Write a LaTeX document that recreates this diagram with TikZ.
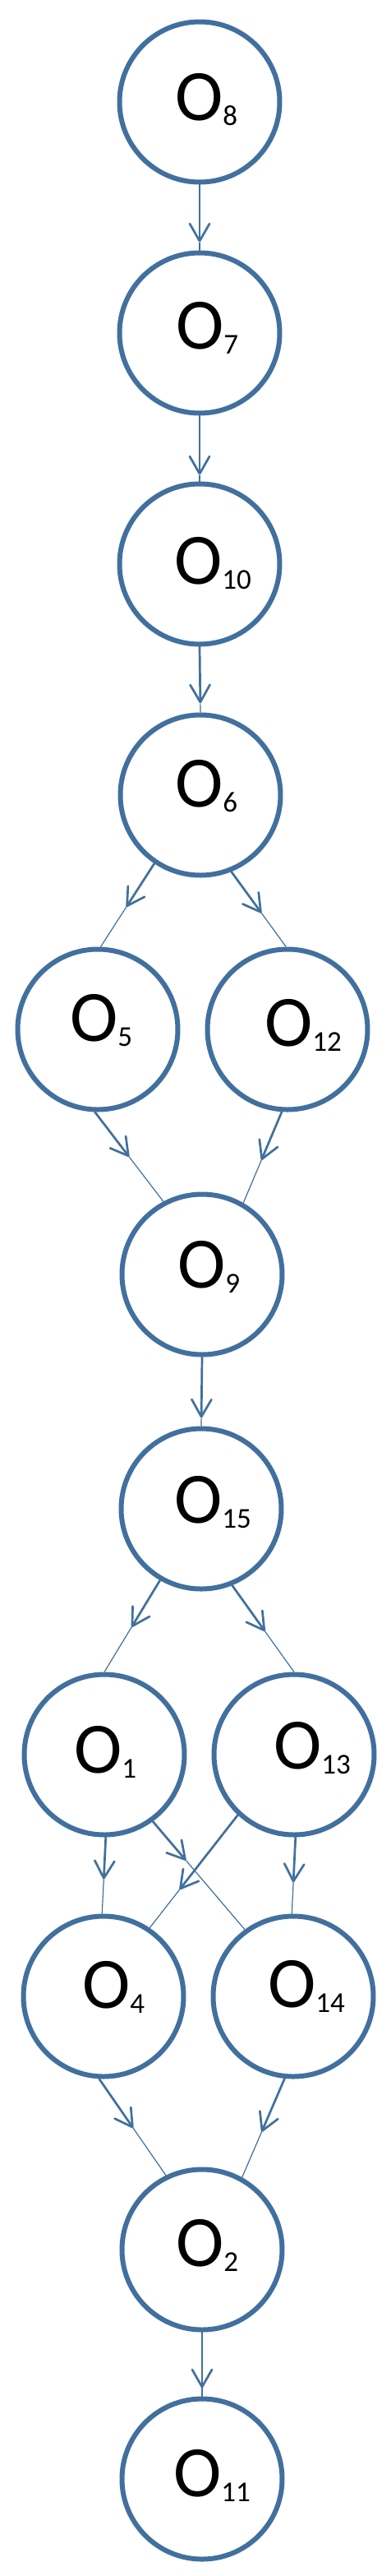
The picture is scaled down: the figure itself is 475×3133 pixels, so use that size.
\documentclass[tikz,border=0pt]{standalone}
\usepackage{fontspec}
\setmainfont{Carlito}
\usetikzlibrary{arrows.meta}
\definecolor{nodeblue}{RGB}{65,112,158}
\newcommand\subs[1]{\raisebox{-6pt}{\fontsize{35}{40}\selectfont #1}}
\newcommand\myconn[4]{%
  \path (#1) -- (#2) coordinate[pos=#3] (#4);
  \draw[thk] (#1) -- (#4);
  \draw[thn] (#4) -- (#2);}
\begin{document}
\begin{tikzpicture}[x=1pt,y=-1pt,
  circ/.style={circle,draw=nodeblue,line width=6pt,minimum size=195pt,inner sep=0pt,fill=white},
  lbl/.style={anchor=base west,inner sep=0pt,outer sep=0pt,font=\fontsize{88}{96}\selectfont},
  thk/.style={draw=nodeblue,line width=2.7pt,line cap=round,-{Straight Barb[length=21pt,width=24pt,round]}},
  thn/.style={draw=nodeblue,line width=1.2pt}]
\fill[white] (0,0) rectangle (475,3133);
\useasboundingbox (0,0) rectangle (475,3133);
% nodes
\node[circ] (o8)  at (243,124)  {};
\node[circ] (o7)  at (243,405)  {};
\node[circ] (o10) at (243,686)  {};
\node[circ] (o6)  at (244,967)  {};
\node[circ] (o5)  at (119,1252) {};
\node[circ] (o12) at (350,1252) {};
\node[circ] (o9)  at (246,1550) {};
\node[circ] (o15) at (245,1835) {};
\node[circ] (o1)  at (127,2134) {};
\node[circ] (o13) at (358,2134) {};
\node[circ] (o4)  at (126,2428) {};
\node[circ] (o14) at (357,2428) {};
\node[circ] (o2)  at (246,2736) {};
\node[circ] (o11) at (246,3015) {};
% labels
\node[lbl] (t8)  at (213,146)  {O\subs{8}};
\node[lbl] (t7)  at (214,424)  {O\subs{7}};
\node[lbl] (t10) at (212,710)  {O\subs{10}};
\node[lbl] (t6)  at (213,981)  {O\subs{6}};
\node[lbl] (t5)  at (85,1266)  {O\subs{5}};
\node[lbl] (t12) at (322,1272) {O\subs{12}};
\node[lbl] (t9)  at (216,1566) {O\subs{9}};
\node[lbl] (t15) at (212,1852) {O\subs{15}};
\node[lbl] (t1)  at (90,2156)  {O\subs{1}};
\node[lbl] (t13) at (333,2151) {O\subs{13}};
\node[lbl] (t4)  at (100,2442) {O\subs{4}};
\node[lbl] (t14) at (326,2441) {O\subs{14}};
\node[lbl] (t2)  at (214,2756) {O\subs{2}};
\node[lbl] (t11) at (211,3036) {O\subs{11}};
% connectors
\myconn{o8.south}{o7.north}{0.875}{m87}
\myconn{o7.south}{o10.north}{0.9}{m710}
\myconn{o10.south}{o6.north}{0.86}{m106}
\myconn{o6.236}{o5.88}{0.52}{m65}
\myconn{o6.292}{o12.91}{0.55}{m612}
\myconn{o5.268}{o9.118}{0.5}{m59}
\myconn{o12.266}{o9.60}{0.53}{m129}
\myconn{o9.south}{o15.north}{0.88}{m915}
\myconn{o15.240}{o1.90}{0.51}{m151}
\myconn{o15.292}{o13.90}{0.53}{m1513}
\myconn{o1.271}{o4.91}{0.55}{m14}
\myconn{o13.271}{o14.91}{0.59}{m1314}
\myconn{o1.306}{o14.126}{0.36}{m114}
\myconn{o13.227}{o4.56}{0.66}{m134}
\myconn{o4.267}{o2.116}{0.51}{m42}
\myconn{o14.264}{o2.61}{0.54}{m142}
\myconn{o2.south}{o11.north}{0.87}{m211}
\end{tikzpicture}
\end{document}
